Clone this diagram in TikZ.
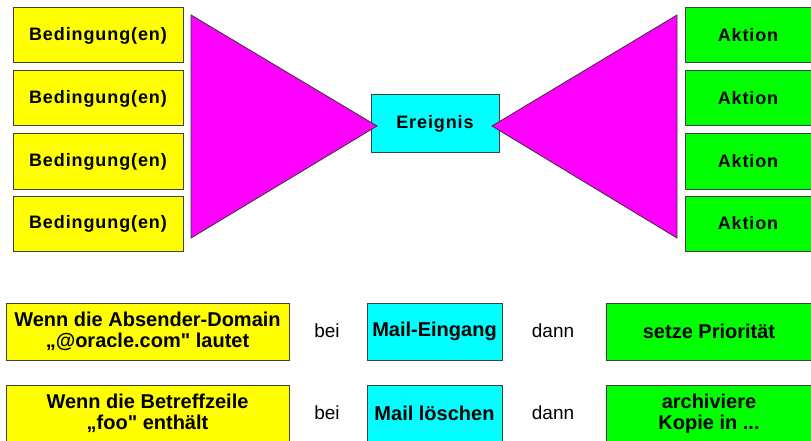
\documentclass[tikz,border=0pt]{standalone}
\usepackage{fontspec}
\setmainfont{Liberation Sans}
\newfontfamily\wideboxfont[LetterSpace=5]{Liberation Sans}

\definecolor{condyellow}{RGB}{255,255,0}
\definecolor{eventcyan}{RGB}{0,255,255}
\definecolor{actgreen}{RGB}{0,255,0}
\definecolor{funnelpink}{RGB}{255,0,255}

\tikzset{
  x=1pt, y=-1pt,
  box/.style={draw=black!75, line width=1pt, inner sep=0pt, align=center},
  topbox/.style={box, minimum width=#1, minimum height=55pt,
    font=\wideboxfont\bfseries\fontsize{18}{20}\selectfont},
  rowbox/.style={box, minimum width=#1, minimum height=57pt,
    font=\bfseries\fontsize{20}{21}\selectfont},
  funnel/.style={draw=black!80, line width=0.8pt, fill=funnelpink},
  joinword/.style={font=\fontsize{19}{21}\selectfont},
}

\begin{document}
\begin{tikzpicture}
  \useasboundingbox[fill=white] (0,0) rectangle (811,441);

  % Bedingungen
  \node[topbox=170pt, fill=condyellow] (cond1) at (98,35.5) {Bedingung(en)};
  \node[topbox=170pt, fill=condyellow] (cond2) at (98,98.5) {Bedingung(en)};
  \node[topbox=170pt, fill=condyellow] (cond3) at (98,161.5) {Bedingung(en)};
  \node[topbox=170pt, fill=condyellow] (cond4) at (98,223.5) {Bedingung(en)};

  % Ereignis in der Mitte
  \node[topbox=128pt, minimum height=58pt, fill=eventcyan] (event) at (435,124) {Ereignis};

  % Aktionen
  \node[topbox=126pt, fill=actgreen] (act1) at (748,35.5) {Aktion};
  \node[topbox=126pt, fill=actgreen] (act2) at (748,98.5) {Aktion};
  \node[topbox=126pt, fill=actgreen] (act3) at (748,161.5) {Aktion};
  \node[topbox=126pt, fill=actgreen] (act4) at (748,223.5) {Aktion};

  % Trichter links und rechts
  \draw[funnel] (191,15) -- (191,238) -- (377,126) -- cycle;
  \draw[funnel] (677,15) -- (677,238) -- (492,126) -- cycle;

  % Beispiel 1
  \node[rowbox=283pt, fill=condyellow] (ruleA) at (147.5,331.5)
    {Wenn die Absender-Domain\\„@oracle.com\textquotedbl{} lautet};
  \node[joinword] (beiA) at (327,331) {bei};
  \node[rowbox=135pt, fill=eventcyan] (eventA) at (434.5,331.5) {Mail-Eingang};
  \node[joinword] (dannA) at (553,331) {dann};
  \node[rowbox=205pt, fill=actgreen] (actA) at (709,331.5) {setze Priorität};

  % Beispiel 2
  \node[rowbox=283pt, fill=condyellow] (ruleB) at (147.5,413.5)
    {Wenn die Betreffzeile\\„foo\textquotedbl{} enthält};
  \node[joinword] (beiB) at (327,413) {bei};
  \node[rowbox=135pt, fill=eventcyan] (eventB) at (434.5,413.5) {Mail löschen};
  \node[joinword] (dannB) at (553,413) {dann};
  \node[rowbox=205pt, fill=actgreen] (actB) at (709,413.5) {archiviere\\Kopie in ...};
\end{tikzpicture}
\end{document}
